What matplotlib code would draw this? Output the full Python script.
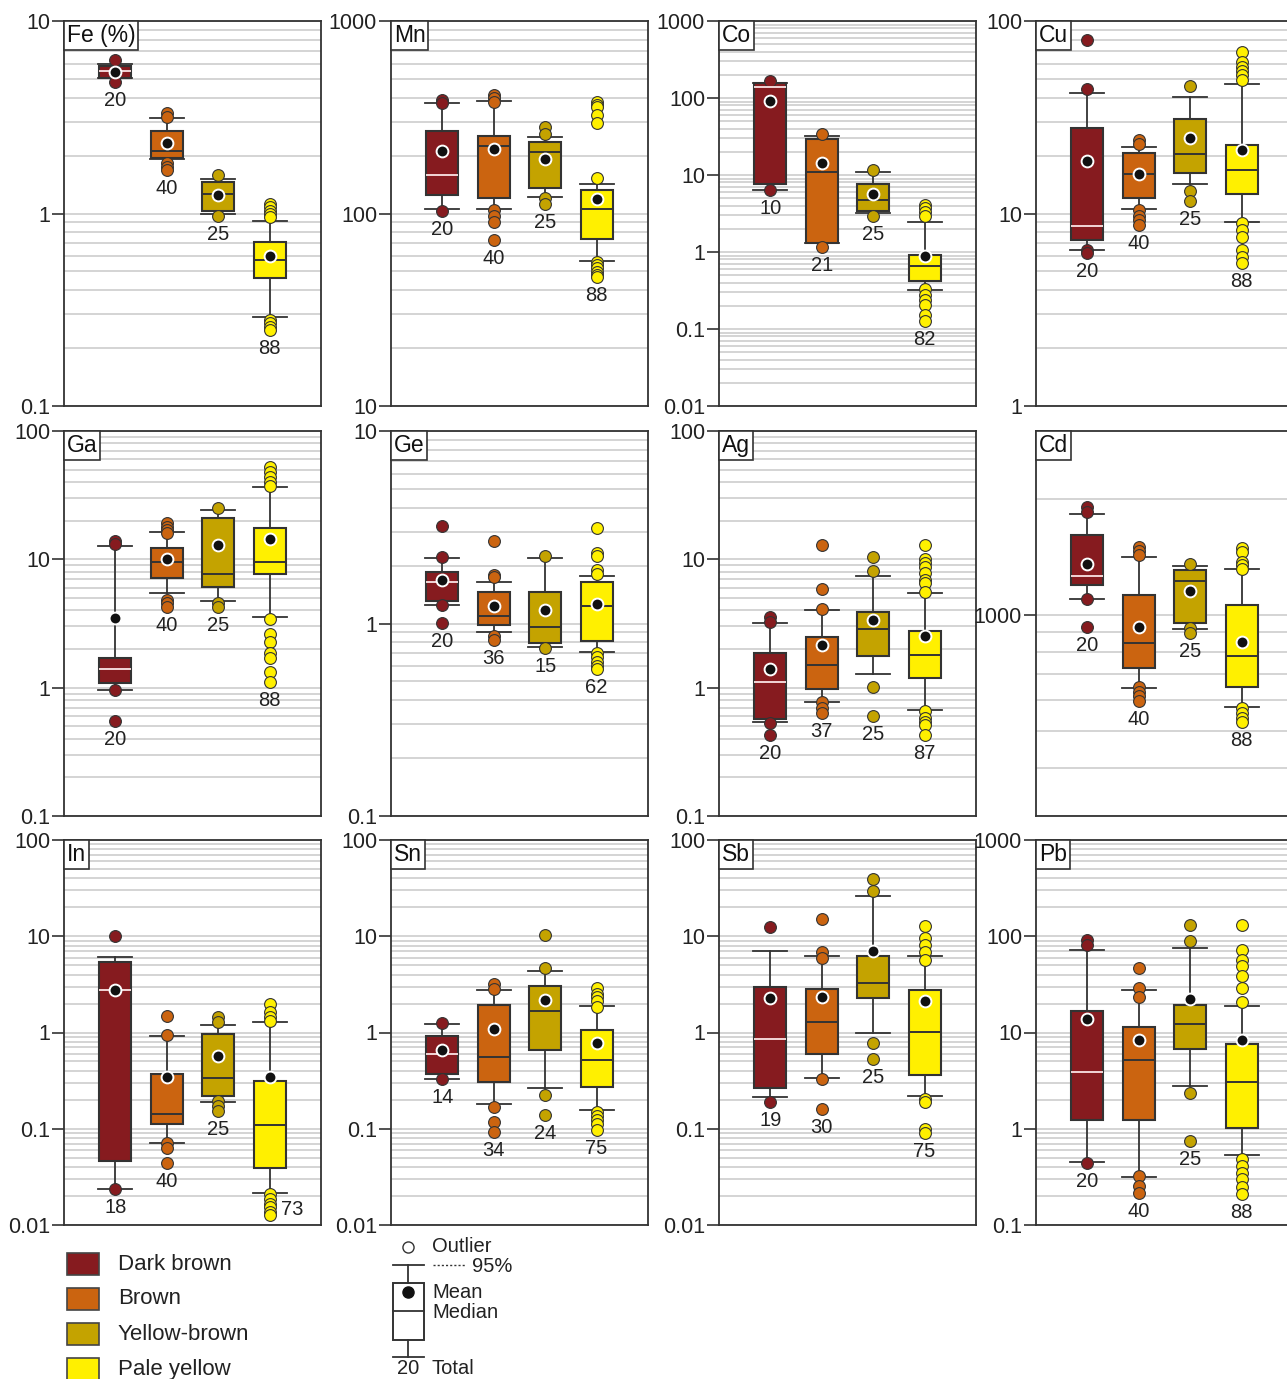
import matplotlib
matplotlib.use("Agg")
import matplotlib.pyplot as plt
import matplotlib.patches as mpatches
from matplotlib.ticker import LogLocator, FuncFormatter, NullFormatter, FixedLocator
from matplotlib.offsetbox import AnchoredText

plt.rcParams['font.family'] = ['Liberation Sans', 'DejaVu Sans']

groups = ["Dark brown", "Brown", "Yellow-brown", "Pale yellow"]
colors = ["#861b1f", "#cb6410", "#c4a300", "#fff000"]

# per element: quartiles, 5%/95% whiskers, mean, sample count and outliers per colour group
Fe = dict(q1=[5.05, 1.95, 1.03, 0.46], med=[5.5, 2.1, 1.26, 0.57], q3=[5.85, 2.69, 1.46, 0.71],
          lo=[5.06, 1.92, 0.99, 0.29], hi=[6.0, 3.13, 1.51, 0.91], mean=[5.45, 2.33, 1.25, 0.60],
          n=[20, 40, 25, 88],
          out=[[6.3, 4.8], [3.31, 3.18, 1.82, 1.75, 1.68], [1.58, 0.97],
               [1.12, 1.08, 1.035, 0.994, 0.962, 0.28, 0.269, 0.258, 0.248]])
Mn = dict(q1=[125, 121, 136, 73.8], med=[158, 224, 208, 106], q3=[268, 254, 236, 133],
          lo=[106, 106, 122, 56.6], hi=[376, 384, 251, 143], mean=[211, 216, 191, 119],
          n=[20, 40, 25, 88],
          out=[[389, 374, 103.5], [413, 400, 381, 104, 97, 90.6, 72.8], [281, 259, 120, 112],
               [381, 366, 357, 325, 296, 152, 56.2, 54.1, 51.9, 49.9, 48, 46.7]])
Co = dict(q1=[7.6, 1.30, 3.44, 0.424], med=[138, 10.8, 4.69, 0.664], q3=[155, 29.6, 7.64, 0.923],
          lo=[6.3, 1.3, 3.18, 0.318], hi=[155, 32, 10.9, 2.45], mean=[92, 14.5, 5.66, 0.895],
          n=[10, 21, 25, 82],
          out=[[168, 6.3], [33.7, 1.17], [11.6, 2.94],
               [4.07, 3.69, 3.34, 2.94, 0.327, 0.277, 0.238, 0.205, 0.152, 0.128]])
Cu = dict(q1=[7.28, 12.0, 16.3, 12.7], med=[8.65, 16.0, 20.4, 16.9], q3=[27.9, 20.7, 30.9, 22.6],
          lo=[6.46, 10.5, 14.3, 9.0], hi=[42.1, 22.1, 40.4, 47.2], mean=[18.7, 16.1, 24.8, 21.5],
          n=[20, 40, 25, 88],
          out=[[79.7, 44.2, 6.5, 6.2], [24.1, 23.0, 10.4, 9.7, 9.25, 8.7], [45.9, 13.1, 11.6],
               [69.3, 61.5, 58, 55.2, 52.4, 49.4, 8.9, 8.2, 7.58, 6.46, 5.97, 5.55]])
Ga = dict(q1=[1.08, 7.11, 6.12, 7.64], med=[1.39, 9.58, 7.72, 9.48], q3=[1.71, 12.2, 21.1, 17.5],
          lo=[0.957, 5.49, 4.77, 3.53], hi=[12.7, 16.2, 24.1, 36.4], mean=[3.47, 10.05, 12.9, 14.3],
          n=[20, 40, 25, 88],
          out=[[13.96, 13.2, 0.96, 0.55], [19.1, 17.9, 16.9, 16.0, 4.82, 4.54, 4.27], [25.3, 4.59, 4.27],
               [52.7, 48.2, 44.1, 40.3, 37.5, 3.41, 2.62, 2.28, 1.85, 1.69, 1.33, 1.11]])
Ge = dict(q1=[1.31, 0.986, 0.789, 0.808], med=[1.64, 1.10, 0.955, 1.23], q3=[1.86, 1.45, 1.45, 1.64],
          lo=[1.25, 0.90, 0.757, 0.708], hi=[2.19, 1.65, 2.19, 1.77], mean=[1.68, 1.24, 1.17, 1.26],
          n=[20, 36, 15, 62],
          out=[[3.21, 2.22, 1.25, 1.01], [2.69, 1.79, 1.74, 0.861, 0.82], [2.24, 0.743],
               [3.15, 2.32, 2.24, 1.90, 1.80, 0.70, 0.667, 0.634, 0.601, 0.578]])
Ag = dict(q1=[0.566, 0.975, 1.76, 1.18], med=[1.11, 1.50, 2.85, 1.79], q3=[1.87, 2.49, 3.86, 2.76],
          lo=[0.536, 0.768, 1.28, 0.668], hi=[3.21, 4.0, 7.45, 5.43], mean=[1.39, 2.14, 3.36, 2.52],
          n=[20, 37, 25, 87],
          out=[[3.57, 3.27, 0.53, 0.427], [12.9, 5.87, 4.1, 0.776, 0.70, 0.637], [10.4, 8.15, 1.02, 0.601],
               [12.9, 10.0, 9.31, 8.75, 7.87, 6.9, 6.5, 5.59, 0.66, 0.577, 0.543, 0.511, 0.427]])
Cd = dict(q1=[1194, 728, 949, 650], med=[1260, 842, 1225, 781], q3=[1611, 1122, 1306, 1059],
          lo=[1096, 644, 918, 577], hi=[1825, 1409, 1340, 1312], mean=[1355, 930, 1152, 851],
          n=[20, 40, 25, 88],
          out=[[1900, 1850, 1096, 927], [1502, 1466, 1429, 650, 631, 615, 597], [1355, 921, 894],
               [1486, 1458, 1371, 1345, 1318, 571, 555, 538, 527]])
In = dict(q1=[0.0457, 0.112, 0.217, 0.0395], med=[2.74, 0.144, 0.334, 0.109], q3=[5.4, 0.371, 0.968, 0.316],
          lo=[0.0236, 0.071, 0.188, 0.0214], hi=[6.04, 0.93, 1.20, 1.30], mean=[2.74, 0.348, 0.576, 0.348],
          n=[18, 40, 25, 73],
          out=[[10.0, 0.0236], [1.48, 0.953, 0.0703, 0.0638, 0.044], [1.44, 1.28, 0.196, 0.174, 0.154],
               [1.99, 1.63, 1.45, 1.31, 0.0209, 0.0185, 0.0167, 0.0152, 0.0138, 0.0127]])
Sn = dict(q1=[0.371, 0.304, 0.665, 0.27], med=[0.60, 0.562, 1.67, 0.523], q3=[0.923, 1.93, 3.01, 1.06],
          lo=[0.332, 0.181, 0.263, 0.156], hi=[1.23, 2.78, 4.35, 1.88], mean=[0.659, 1.08, 2.19, 0.774],
          n=[14, 34, 24, 75],
          out=[[1.25, 0.33], [3.16, 2.85, 0.169, 0.118, 0.093], [10.4, 4.72, 0.226, 0.14],
               [2.92, 2.53, 2.33, 2.12, 1.84, 0.148, 0.136, 0.123, 0.112, 0.0977]])
Sb = dict(q1=[0.267, 0.60, 2.3, 0.365], med=[0.866, 1.30, 3.3, 1.02], q3=[3.0, 2.8, 6.3, 2.74],
          lo=[0.215, 0.34, 1.0, 0.221], hi=[6.98, 6.2, 26.1, 6.19], mean=[2.26, 2.36, 6.98, 2.1],
          n=[19, 30, 25, 75],
          out=[[12.4, 0.191], [15.0, 6.8, 6.0, 0.33, 0.162], [39.3, 29.4, 0.787, 0.536],
               [12.7, 9.5, 8.05, 6.8, 5.6, 0.205, 0.191, 0.1, 0.091]])
Pb = dict(q1=[1.24, 1.24, 6.8, 1.02], med=[3.93, 5.2, 12.4, 3.09], q3=[16.9, 11.3, 19.1, 7.68],
          lo=[0.453, 0.316, 2.8, 0.536], hi=[71.5, 27.4, 75, 18.7], mean=[13.7, 8.26, 22.1, 8.26],
          n=[20, 40, 25, 88],
          out=[[90.8, 80.6, 0.44], [46.4, 28.7, 23.2, 0.32, 0.255, 0.215], [130, 88.7, 2.37, 0.75],
               [130, 71.5, 56.2, 48.7, 38.3, 28.7, 20.5, 0.487, 0.412, 0.348, 0.301, 0.249, 0.21]])

panels = [("Fe (%)", Fe, (0.1, 10)), ("Mn", Mn, (10, 1000)), ("Co", Co, (0.01, 1000)), ("Cu", Cu, (1, 100)),
          ("Ga", Ga, (0.1, 100)), ("Ge", Ge, (0.1, 10)), ("Ag", Ag, (0.1, 100)), ("Cd", Cd, (300, 3000)),
          ("In", In, (0.01, 100)), ("Sn", Sn, (0.01, 100)), ("Sb", Sb, (0.01, 100)), ("Pb", Pb, (0.1, 1000))]

W, H = 1287, 1379
fig = plt.figure(figsize=(W / 100, H / 100), dpi=100)

col_left = [64, 391, 719, 1036]
row_top = [21, 431, 840]
pw, ph = 257, 385

edge = "#333333"

for k, (name, d, (ylo, yhi)) in enumerate(panels):
    r, c = divmod(k, 4)
    ax = fig.add_axes([col_left[c] / W, 1 - (row_top[r] + ph) / H, pw / W, ph / H])
    ax.set_yscale("log")
    ax.set_ylim(ylo, yhi)
    ax.set_xlim(0, 5)

    for i in range(4):
        st = dict(q1=d["q1"][i], med=d["med"][i], q3=d["q3"][i], whislo=d["lo"][i],
                  whishi=d["hi"][i], mean=d["mean"][i], fliers=d["out"][i])
        medc = "#f2d6d6" if i == 0 else edge
        ax.bxp([st], positions=[i + 1], widths=0.62, patch_artist=True, showmeans=True,
               capwidths=0.66,
               boxprops=dict(facecolor=colors[i], edgecolor=edge, linewidth=1.5),
               medianprops=dict(color=medc, linewidth=1.4),
               whiskerprops=dict(color=edge, linewidth=1.3),
               capprops=dict(color=edge, linewidth=1.3),
               meanprops=dict(marker="o", markerfacecolor="#111111", markeredgecolor="white",
                              markersize=8.5, markeredgewidth=1.4),
               flierprops=dict(marker="o", markerfacecolor=colors[i], markeredgecolor=edge,
                               markersize=8.5, markeredgewidth=0.8))
        low = min([d["lo"][i]] + d["out"][i])
        if name == "In" and i == 3:
            ax.annotate(str(d["n"][i]), xy=(i + 1, low), xytext=(8, 4), textcoords="offset points",
                        ha="left", va="center", fontsize=14.5, color="#222222")
        else:
            ax.annotate(str(d["n"][i]), xy=(i + 1, low), xytext=(0, -6.5), textcoords="offset points",
                        ha="center", va="top", fontsize=14.5, color="#222222")

    # decade ticks with plain labels, grid at every log step
    if name == "Cd":
        ax.yaxis.set_major_locator(FixedLocator([1000]))
        ax.yaxis.set_minor_locator(FixedLocator([300, 400, 500, 600, 700, 800, 900, 2000]))
    else:
        ax.yaxis.set_major_locator(LogLocator(base=10, numticks=20))
        ax.yaxis.set_minor_locator(LogLocator(base=10, subs=range(2, 10), numticks=20))
    ax.yaxis.set_major_formatter(FuncFormatter(lambda v, p: f"{v:g}"))
    ax.yaxis.set_minor_formatter(NullFormatter())
    ax.grid(True, which="both", axis="y", color="#cdcdcd", linewidth=1.2)
    ax.set_axisbelow(True)
    ax.set_xticks([])
    ax.tick_params(axis="y", which="major", length=9, width=1.2, color=edge, labelsize=15.5,
                   labelcolor="#222222", pad=1)
    ax.tick_params(axis="y", which="minor", length=0)
    for s in ax.spines.values():
        s.set_color(edge)
        s.set_linewidth(1.3)

    at = AnchoredText(name, loc="upper left", pad=0.12, borderpad=0, frameon=True,
                      prop=dict(size=16.5, color="#111111"))
    at.patch.set_boxstyle("square,pad=0")
    at.patch.set_edgecolor(edge)
    at.patch.set_linewidth(1.2)
    at.set_zorder(10)
    ax.add_artist(at)

# colour legend and box key along the bottom, drawn in pixel space
lg = fig.add_axes([0, 0, 1, 1])
lg.set_xlim(0, W)
lg.set_ylim(H, 0)
lg.axis("off")

for i, g in enumerate(groups):
    yc = 1264 + i * 35
    lg.add_patch(mpatches.Rectangle((67, yc - 11), 32, 22, facecolor=colors[i], edgecolor="#444444",
                                    linewidth=1.2))
    lg.text(118, yc, g, fontsize=16, va="center", ha="left", color="#222222")

kx, kw = 408, 31
lg.plot([kx], [1247], marker="o", markersize=8, markerfacecolor="white", markeredgecolor=edge,
        markeredgewidth=1.0)
lg.text(432, 1247, "Outlier", fontsize=14.5, va="center", color="#222222")
lg.plot([kx - kw / 2, kx + kw / 2], [1265, 1265], color=edge, lw=1.3)
lg.plot([433, 466], [1265, 1265], color=edge, lw=1.0, ls=(0, (1.5, 1.5)))
lg.text(472, 1266, "95%", fontsize=14.5, va="center", color="#222222")
lg.plot([kx, kx], [1265, 1283], color=edge, lw=1.3)
lg.add_patch(mpatches.Rectangle((kx - kw / 2, 1283), kw, 57, facecolor="white", edgecolor=edge,
                                linewidth=1.4))
lg.plot([kx - kw / 2, kx + kw / 2], [1311, 1311], color=edge, lw=1.3)
lg.plot([kx], [1292], marker="o", markersize=8, markerfacecolor="#111111", markeredgecolor="#111111")
lg.text(432, 1292, "Mean", fontsize=14.5, va="center", color="#222222")
lg.text(432, 1313, "Median", fontsize=14.5, va="center", color="#222222")
lg.plot([kx, kx], [1340, 1357], color=edge, lw=1.3)
lg.plot([kx - kw / 2, kx + kw / 2], [1357, 1357], color=edge, lw=1.3)
lg.text(kx, 1369, "20", fontsize=14.5, va="center", ha="center", color="#222222")
lg.text(432, 1369, "Total", fontsize=14.5, va="center", color="#222222")

fig.savefig("out.png", dpi=100)
